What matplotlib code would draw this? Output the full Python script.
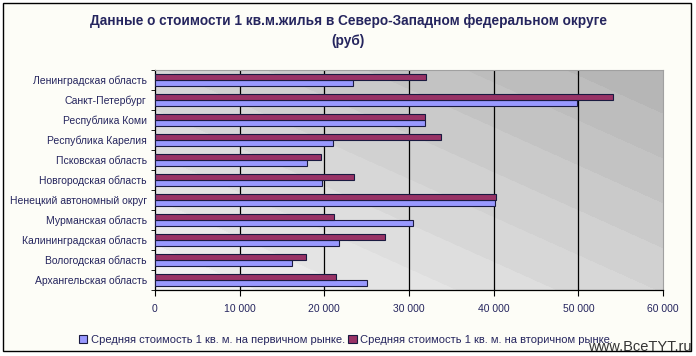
import numpy as np
import matplotlib
matplotlib.use('Agg')
import matplotlib.pyplot as plt
from matplotlib.patches import Rectangle, Patch

plt.rcParams['font.family'] = ['Liberation Sans', 'DejaVu Sans']

# data (bottom to top, as drawn)
regions = ['Архангельская область', 'Вологодская область', 'Калининградская область',
           'Мурманская область', 'Ненецкий автономный округ', 'Новгородская область',
           'Псковская область', 'Республика Карелия', 'Республика Коми',
           'Санкт-Петербург', 'Ленинградская область']
primary = [25000, 16200, 21700, 30500, 40200, 19700, 17950, 21000, 31900, 49800, 23400]
secondary = [21400, 17800, 27200, 21150, 40300, 23500, 19600, 33800, 31900, 54100, 32000]
xticks = [0, 10000, 20000, 30000, 40000, 50000, 60000]

title = 'Данные о стоимости 1 кв.м.жилья в Северо-Западном федеральном округе\n(руб)'
lbl_primary = 'Средняя стоимость 1 кв. м. на первичном рынке.'
lbl_secondary = 'Средняя стоимость 1 кв. м. на вторичном рынке.'

txt = '#25255e'
blue = '#9999ff'
maroon = '#993366'

fig = plt.figure(figsize=(6.96, 3.56), dpi=100)
fig.patch.set_facecolor('white')

# chart border + off-white chart area
fig.patches.append(Rectangle((3/696, 1 - 351/356), 688/696, 348/356,
                             transform=fig.transFigure, facecolor='#fdfdf7',
                             edgecolor='black', lw=1.0, zorder=-10))

ax = fig.add_axes([155/696, 66/356, 508/696, 220/356], zorder=1)
ax.set_facecolor('none')

# stepped diagonal gradient background (light bottom-left, dark top-right)
px, py = np.meshgrid(np.arange(508), np.arange(220)[::-1])
d = (0.45 * px + py) / (0.45 * 508 + 220)
d = np.floor(d * 10) / 10
shade = 0.95 - 0.26 * d
ax.imshow(np.dstack([shade] * 3), extent=[0, 60000, -0.5, len(regions) - 0.5],
          aspect='auto', origin='upper', zorder=0, interpolation='bilinear')

y = np.arange(len(regions))
h = 0.3
ax.barh(y - h/2, primary, height=h, color=blue, edgecolor='#1a1a40', lw=0.8,
        zorder=3, label=lbl_primary)
ax.barh(y + h/2, secondary, height=h, color=maroon, edgecolor='#1a1a40', lw=0.8,
        zorder=3, label=lbl_secondary)

ax.set_xlim(0, 60000)
ax.set_ylim(-0.5, len(regions) - 0.5)
ax.set_xticks(xticks)
ax.set_xticklabels([f'{v:,}'.replace(',', ' ') for v in xticks], color=txt, fontsize=7.5)
ax.set_yticks(y)
ax.set_yticklabels(regions, color=txt, fontsize=7.5)
ax.set_yticks(np.arange(len(regions) + 1) - 0.5, minor=True)
ax.tick_params(axis='y', which='major', length=0, pad=6)
ax.tick_params(axis='y', which='minor', length=3, direction='out', color='black')
ax.tick_params(axis='x', length=4, direction='out', color='black', pad=6)

for v in xticks[1:-1]:
    ax.axvline(v, color='black', lw=0.9, zorder=2)

for s in ['top', 'right']:
    ax.spines[s].set_color('#a0a0a0')
    ax.spines[s].set_linewidth(0.8)
for s in ['left', 'bottom']:
    ax.spines[s].set_color('black')
    ax.spines[s].set_linewidth(0.9)

fig.text(0.5, 1 - 31/356, title, ha='center', va='center', fontsize=9.8,
         fontweight='bold', color=txt, linespacing=1.6)

handles = [Patch(facecolor=blue, edgecolor='#1a1a40', lw=0.8, label=lbl_primary),
           Patch(facecolor=maroon, edgecolor='#1a1a40', lw=0.8, label=lbl_secondary)]
fig.legend(handles=handles, loc='center', bbox_to_anchor=(0.497, 1 - 340/356), ncol=2,
           frameon=False, fontsize=8, labelcolor=txt, handlelength=0.8,
           handleheight=0.8, handletextpad=0.3, columnspacing=0.3)

fig.text(692/696, 1 - 347/356, 'www.BceTYT.ru', ha='right', va='center',
         fontsize=10.5, color='#333333')

fig.savefig('out.png', dpi=100)
